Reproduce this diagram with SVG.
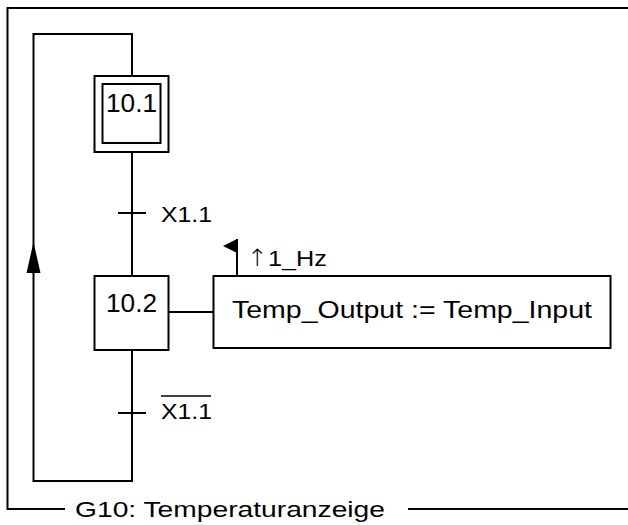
<svg xmlns="http://www.w3.org/2000/svg" width="628" height="525" viewBox="0 0 628 525">
<style>
.ln{stroke:#000;stroke-width:2;fill:none}
.bx{stroke:#000;stroke-width:2;fill:#fff}
.t{font-family:"Liberation Sans",Arial,sans-serif;font-size:22px;fill:#000}
.n{font-family:"Liberation Sans",Arial,sans-serif;font-size:26px;fill:#000}
</style>
<rect width="628" height="525" fill="#fff"/>
<g id="frame">
<polyline class="ln" points="628,8 7.5,8 7.5,509 65,509"/>
<line class="ln" x1="408" y1="509" x2="628" y2="509"/>
<text class="t" x="75" y="517" textLength="310" lengthAdjust="spacingAndGlyphs">G10: Temperaturanzeige</text>
</g>
<g id="connectors">
<polyline class="ln" points="132,76 132,34 33.5,34 33.5,481 132,481 132,350"/>
<path d="M33.5 242 L40.5 273 L26.5 273 Z" fill="#000"/>
<line class="ln" x1="132" y1="152" x2="132" y2="276"/>
<line class="ln" x1="168" y1="312" x2="213" y2="312"/>
</g>
<g id="t1">
<line class="ln" x1="118" y1="213" x2="146" y2="213"/>
<text class="t" x="161" y="222" textLength="51" lengthAdjust="spacingAndGlyphs">X1.1</text>
</g>
<g id="t2">
<line class="ln" x1="118" y1="413" x2="146" y2="413"/>
<text class="t" x="161" y="419" textLength="51" lengthAdjust="spacingAndGlyphs">X1.1</text>
<line x1="161" y1="396" x2="211" y2="396" stroke="#000" stroke-width="1.6"/>
</g>
<g id="s10_1">
<rect class="bx" x="94.5" y="76" width="74" height="76"/>
<rect class="bx" x="102.5" y="84" width="58" height="59"/>
<text class="n" x="106" y="112" textLength="51" lengthAdjust="spacingAndGlyphs">10.1</text>
</g>
<g id="s10_2">
<rect class="bx" x="94.5" y="276" width="74" height="74"/>
<text class="n" x="106" y="312" textLength="51" lengthAdjust="spacingAndGlyphs">10.2</text>
</g>
<g id="action">
<rect class="bx" x="213.5" y="276" width="397" height="72"/>
<text class="t" x="232" y="318" textLength="360" lengthAdjust="spacingAndGlyphs" style="font-size:23px">Temp_Output := Temp_Input</text>
<line class="ln" x1="237" y1="276" x2="237" y2="239"/>
<path d="M237 239 L223 246 L237 253 Z" fill="#000"/>
<text x="247" y="266" style="font-family:'DejaVu Sans',sans-serif;font-size:24px;fill:#000;font-weight:300">↑</text>
<text class="t" x="268" y="266" textLength="59" lengthAdjust="spacingAndGlyphs">1_Hz</text>
</g>
</svg>
